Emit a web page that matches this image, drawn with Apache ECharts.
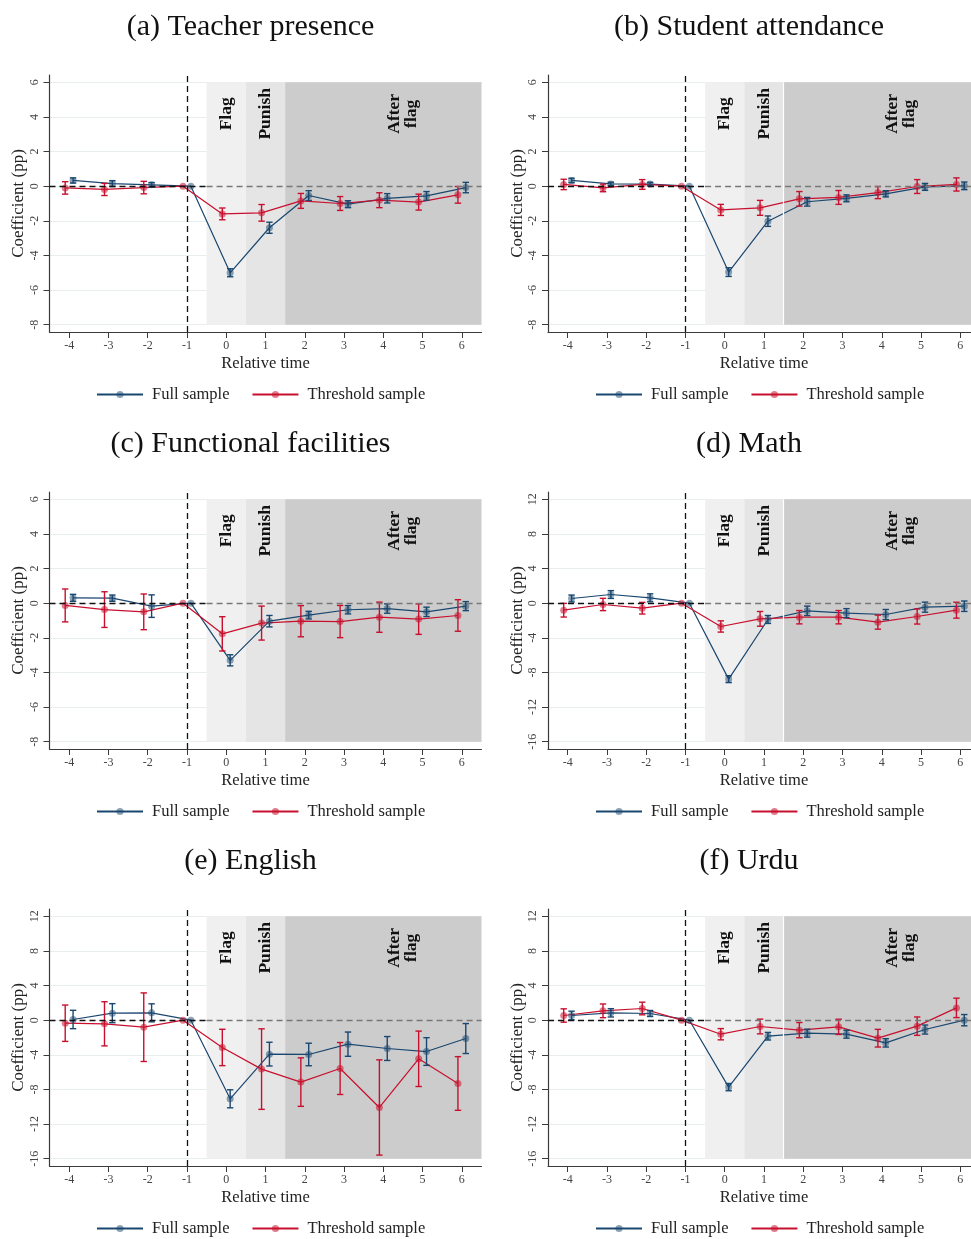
<!DOCTYPE html>
<html>
<head>
<meta charset="utf-8">
<script src="https://cdn.jsdelivr.net/npm/echarts@6/dist/echarts.min.js"></script>
<style>
    html, body { margin: 0; padding: 0; background: #fff; }
    #chart { width: 971px; height: 1239px; }
</style>
</head>
<body>
<div id="chart"></div>
<script>
// relative time (x) and tick values
const relTime = [-4, -3, -2, -1, 0, 1, 2, 3, 4, 5, 6]
const yTicksNarrow = [-8, -6, -4, -2, 0, 2, 4, 6]
const yTicksWide = [-16, -12, -8, -4, 0, 4, 8, 12]
const phaseLabels = ['Flag', 'Punish', 'After\nflag']

// coefficients and half-width of the confidence intervals
const teacherFull = [0.33, 0.15, 0.08, 0, -5.0, -2.4, -0.54, -1.04, -0.7, -0.56, -0.08]
const teacherFullErr = [0.15, 0.17, 0.13, 0, 0.23, 0.32, 0.28, 0.2, 0.27, 0.25, 0.3]
const teacherThr = [-0.1, -0.19, -0.08, 0, -1.6, -1.54, -0.85, -1.0, -0.81, -0.92, -0.5]
const teacherThrErr = [0.36, 0.35, 0.36, 0, 0.34, 0.48, 0.43, 0.4, 0.43, 0.46, 0.48]

const studentFull = [0.33, 0.13, 0.12, 0, -4.96, -2.02, -0.9, -0.7, -0.44, -0.04, 0.02]
const studentFullErr = [0.13, 0.1, 0.1, 0, 0.25, 0.3, 0.25, 0.2, 0.18, 0.2, 0.22]
const studentThr = [0.1, -0.1, 0.1, 0, -1.37, -1.25, -0.73, -0.65, -0.37, -0.02, 0.1]
const studentThrErr = [0.3, 0.22, 0.28, 0, 0.32, 0.43, 0.42, 0.4, 0.35, 0.4, 0.38]

const facilFull = [0.31, 0.29, -0.17, 0, -3.3, -1.04, -0.69, -0.38, -0.31, -0.5, -0.17]
const facilFullErr = [0.2, 0.18, 0.65, 0, 0.32, 0.33, 0.22, 0.24, 0.27, 0.27, 0.26]
const facilThr = [-0.13, -0.37, -0.5, 0, -1.77, -1.15, -1.04, -1.06, -0.81, -0.92, -0.71]
const facilThrErr = [0.95, 1.03, 1.03, 0, 0.99, 0.98, 0.9, 0.93, 0.87, 0.88, 0.91]

const mathFull = [0.54, 1.0, 0.62, 0, -8.77, -1.88, -0.88, -1.15, -1.31, -0.46, -0.35]
const mathFullErr = [0.4, 0.45, 0.46, 0, 0.4, 0.46, 0.54, 0.52, 0.58, 0.58, 0.6]
const mathThr = [-0.81, -0.15, -0.58, 0, -2.69, -1.81, -1.62, -1.62, -2.19, -1.54, -0.81]
const mathThrErr = [0.79, 0.71, 0.67, 0, 0.65, 0.85, 0.77, 0.77, 0.81, 0.87, 0.92]

const englishFull = [0.08, 0.81, 0.85, 0, -9.08, -3.92, -3.96, -2.77, -3.27, -3.62, -2.12]
const englishFullErr = [1.06, 1.1, 1.04, 0, 1.04, 1.37, 1.3, 1.4, 1.38, 1.6, 1.73]
const englishThr = [-0.35, -0.42, -0.81, 0, -3.15, -5.65, -7.15, -5.58, -10.08, -4.46, -7.31]
const englishThrErr = [2.1, 2.55, 3.96, 0, 2.1, 4.65, 2.8, 3.0, 5.5, 3.2, 3.1]

const urduFull = [0.54, 0.85, 0.77, 0, -7.73, -1.85, -1.5, -1.62, -2.62, -1.08, 0]
const urduFullErr = [0.5, 0.48, 0.35, 0, 0.42, 0.44, 0.46, 0.46, 0.48, 0.52, 0.65]
const urduThr = [0.54, 1.08, 1.35, 0, -1.62, -0.73, -1.15, -0.77, -2.08, -0.69, 1.42]
const urduThrErr = [0.77, 0.79, 0.73, 0, 0.65, 0.85, 0.88, 0.88, 1.02, 1.06, 1.12]

const panels = [
    { title: '(a) Teacher presence', full: teacherFull, fullErr: teacherFullErr, thr: teacherThr, thrErr: teacherThrErr, ticks: yTicksNarrow },
    { title: '(b) Student attendance', full: studentFull, fullErr: studentFullErr, thr: studentThr, thrErr: studentThrErr, ticks: yTicksNarrow },
    { title: '(c) Functional facilities', full: facilFull, fullErr: facilFullErr, thr: facilThr, thrErr: facilThrErr, ticks: yTicksNarrow },
    { title: '(d) Math', full: mathFull, fullErr: mathFullErr, thr: mathThr, thrErr: mathThrErr, ticks: yTicksWide },
    { title: '(e) English', full: englishFull, fullErr: englishFullErr, thr: englishThr, thrErr: englishThrErr, ticks: yTicksWide },
    { title: '(f) Urdu', full: urduFull, fullErr: urduFullErr, thr: urduThr, thrErr: urduThrErr, ticks: yTicksWide }
]

const FONT = "'Liberation Serif', 'Times New Roman', serif"
const BLUE = '#1a476f'
const BLUE_MARK = 'rgba(26,71,111,0.5)'
const RED = '#c8102e'
const RED_MARK = 'rgba(200,16,46,0.55)'
const AXIS = '#3a3a3a'

function errorBar(color) {
    return function (params, api) {
        const x = api.value(0), lo = api.value(1), hi = api.value(2)
        if (hi === lo) return
        const a = api.coord([x, hi]), b = api.coord([x, lo])
        const cap = 3.2
        const style = { stroke: color, lineWidth: 1.4 }
        return {
            type: 'group',
            children: [
                { type: 'line', shape: { x1: a[0], y1: a[1], x2: b[0], y2: b[1] }, style },
                { type: 'line', shape: { x1: a[0] - cap, y1: a[1], x2: a[0] + cap, y2: a[1] }, style },
                { type: 'line', shape: { x1: b[0] - cap, y1: b[1], x2: b[0] + cap, y2: b[1] }, style }
            ]
        }
    }
}

function phaseText(params, api) {
    const pt = api.coord([api.value(0), api.value(1)])
    return {
        type: 'text',
        x: pt[0], y: pt[1],
        rotation: Math.PI / 2,
        style: {
            text: phaseLabels[params.dataIndex],
            fill: '#111',
            font: 'bold 17.5px ' + FONT,
            lineHeight: 17,
            align: 'center',
            verticalAlign: 'middle'
        }
    }
}

let option = {
    backgroundColor: '#fff',
    animation: false,
    title: [], legend: [], grid: [], xAxis: [], yAxis: [], series: []
}

panels.forEach((p, i) => {
    const col = i % 2, row = Math.floor(i / 2)
    const lo = p.ticks[0], hi = p.ticks[p.ticks.length - 1]
    const pad = (hi - lo) * 0.03
    const annotY = hi - (hi - lo) * 0.13

    option.title.push({
        text: p.title,
        left: col ? 744 : 245.5,
        top: 7 + row * 417,
        textAlign: 'center',
        textStyle: { fontFamily: FONT, fontSize: 30, fontWeight: 'normal', color: '#111' }
    })
    option.legend.push({
        data: ['Full sample', 'Threshold sample'],
        left: col ? 590 : 91,
        top: 381 + row * 417,
        itemWidth: 46,
        itemHeight: 9,
        itemGap: 22,
        textStyle: { fontFamily: FONT, fontSize: 16.5, color: '#222', padding: [0, 0, 0, 4] }
    })
    option.grid.push({
        left: col ? 548 : 49.5,
        top: 75 + row * 417,
        width: 432,
        height: 257,
        outerBoundsMode: 'none'
    })
    option.xAxis.push({
        type: 'value',
        gridIndex: i,
        min: -4.5,
        max: 6.5,
        name: 'Relative time',
        nameLocation: 'middle',
        nameGap: 23,
        nameTextStyle: { fontFamily: FONT, fontSize: 16.5, color: '#222' },
        axisLine: { show: true, onZero: false, lineStyle: { color: AXIS, width: 1.2 } },
        axisTick: { show: true, length: 6, customValues: relTime, lineStyle: { color: AXIS } },
        axisLabel: { customValues: relTime, margin: 8, fontFamily: FONT, fontSize: 12, color: '#444' },
        splitLine: { show: false }
    })
    option.yAxis.push({
        type: 'value',
        gridIndex: i,
        min: lo - pad,
        max: hi + pad,
        name: 'Coefficient (pp)',
        nameLocation: 'middle',
        nameGap: 22,
        nameTextStyle: { fontFamily: FONT, fontSize: 17, color: '#222' },
        axisLine: { show: true, onZero: false, lineStyle: { color: AXIS, width: 1.2 } },
        axisTick: { show: true, length: 6, customValues: p.ticks, lineStyle: { color: AXIS } },
        axisLabel: { customValues: p.ticks, rotate: 90, margin: 9, fontFamily: FONT, fontSize: 12, color: '#444' },
        splitLine: { show: true, lineStyle: { color: '#e8eeee', width: 1 } }
    })

    const refLines = [
        [{ coord: [-4.5, 0], lineStyle: { color: '#111' } }, { coord: [-0.5, 0] }],
        [{ coord: [-0.5, 0], lineStyle: { color: '#777' } }, { coord: [6.5, 0] }],
        { xAxis: -1, lineStyle: { color: '#111' } }
    ]
    if (col === 1) {
        refLines.push([{ coord: [1.5, lo], lineStyle: { color: '#fff', type: 'solid', width: 1.2 } }, { coord: [1.5, hi] }])
    }

    // shaded phases, reference lines and phase labels
    option.series.push({
        type: 'custom',
        name: 'phases',
        xAxisIndex: i, yAxisIndex: i,
        silent: true,
        z: 1,
        renderItem: phaseText,
        encode: { x: 0, y: 1 },
        data: [[0, annotY], [1, annotY], [4.5, annotY]],
        markArea: {
            silent: true,
            data: [
                [{ xAxis: -0.5, yAxis: lo, itemStyle: { color: '#f0f0f0' } }, { xAxis: 0.5, yAxis: hi }],
                [{ xAxis: 0.5, yAxis: lo, itemStyle: { color: '#e5e5e5' } }, { xAxis: 1.5, yAxis: hi }],
                [{ xAxis: 1.5, yAxis: lo, itemStyle: { color: '#cccccc' } }, { xAxis: 6.5, yAxis: hi }]
            ]
        },
        markLine: {
            silent: true,
            symbol: ['none', 'none'],
            label: { show: false },
            lineStyle: { type: [6, 4], width: 1.3 },
            data: refLines
        }
    })

    option.series.push({
        type: 'line', name: 'Full sample',
        xAxisIndex: i, yAxisIndex: i, z: 3,
        data: relTime.map((t, k) => [t + 0.1, p.full[k]]),
        symbol: 'circle', symbolSize: 7,
        lineStyle: { color: BLUE, width: 1.2 },
        itemStyle: { color: BLUE_MARK },
        emphasis: { disabled: true }
    })
    option.series.push({
        type: 'line', name: 'Threshold sample',
        xAxisIndex: i, yAxisIndex: i, z: 3,
        data: relTime.map((t, k) => [t - 0.1, p.thr[k]]),
        symbol: 'circle', symbolSize: 7,
        lineStyle: { color: RED, width: 1.2 },
        itemStyle: { color: RED_MARK },
        emphasis: { disabled: true }
    })
    option.series.push({
        type: 'custom', name: 'Full CI',
        xAxisIndex: i, yAxisIndex: i, z: 4, silent: true,
        renderItem: errorBar(BLUE),
        encode: { x: 0, y: [1, 2] },
        data: relTime.map((t, k) => [t + 0.1, p.full[k] - p.fullErr[k], p.full[k] + p.fullErr[k]])
    })
    option.series.push({
        type: 'custom', name: 'Threshold CI',
        xAxisIndex: i, yAxisIndex: i, z: 4, silent: true,
        renderItem: errorBar(RED),
        encode: { x: 0, y: [1, 2] },
        data: relTime.map((t, k) => [t - 0.1, p.thr[k] - p.thrErr[k], p.thr[k] + p.thrErr[k]])
    })
})

const chart = echarts.init(document.getElementById('chart'))
chart.setOption(option)
</script>
</body>
</html>
